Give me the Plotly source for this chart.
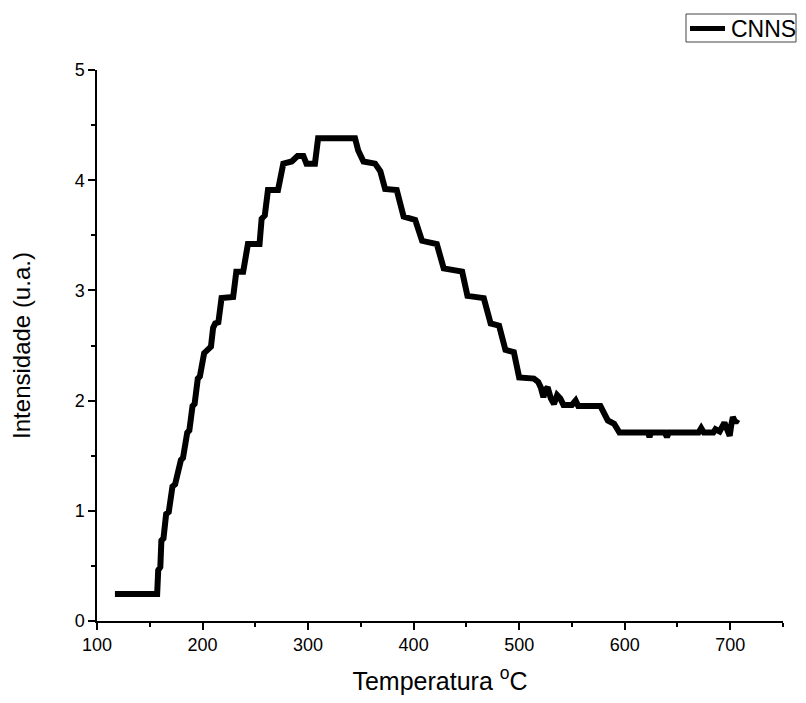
import plotly.graph_objects as go

temperatura = [117, 157, 158, 160, 161, 163, 165.5, 168, 171.5, 174, 179.5, 181.5, 185.5, 187.5,
               190.5, 192.5, 195.5, 197.5, 201.5, 204, 208, 210, 212, 215, 218, 229, 232, 238.5,
               243, 254, 256, 259, 262, 271.5, 273.5, 276.5, 284.5, 290, 295.5, 298.5, 306.5,
               309.5, 344.5, 347.5, 352.5, 363.5, 368.5, 373, 384, 390.5, 401.5, 408, 422, 428.5,
               446, 451, 466.5, 473, 481, 487, 495, 500, 514, 518, 520.5, 523, 525, 527, 530, 533,
               536, 539, 542, 545.5, 550, 553.5, 556, 577, 580, 584, 590, 595, 622, 623.5, 625,
               638, 640, 642, 670, 672.5, 675, 684, 686, 690, 694.5, 697, 699.5, 701, 702.5, 705, 707]
intensidade = [0.245, 0.245, 0.46, 0.49, 0.73, 0.75, 0.97, 0.99, 1.22, 1.24, 1.46, 1.48, 1.71, 1.73,
               1.95, 1.97, 2.2, 2.22, 2.43, 2.45, 2.49, 2.66, 2.70, 2.71, 2.93, 2.94, 3.17, 3.17,
               3.42, 3.42, 3.65, 3.68, 3.91, 3.91, 4.0, 4.15, 4.17, 4.22, 4.22, 4.15, 4.15,
               4.38, 4.38, 4.27, 4.17, 4.15, 4.08, 3.92, 3.91, 3.67, 3.64, 3.45, 3.42, 3.2,
               3.17, 2.95, 2.93, 2.7, 2.68, 2.46, 2.44, 2.21, 2.2, 2.17, 2.12, 2.03, 2.1, 2.12, 2.02, 1.97,
               2.05, 2.02, 1.96, 1.96, 1.96, 2.0, 1.95, 1.95, 1.88, 1.82, 1.79, 1.71, 1.71, 1.67, 1.71,
               1.71, 1.67, 1.71, 1.71, 1.75, 1.71, 1.71, 1.74, 1.72, 1.8, 1.75, 1.68, 1.78, 1.85, 1.8, 1.83]

x_ticks = [100, 200, 300, 400, 500, 600, 700]
y_ticks = [0, 1, 2, 3, 4, 5]
series_name = "CNNS"

font_family = "Liberation Sans, Arial, sans-serif"

# the page body has an 8px margin, so figure coordinates are offset by 8px
OFF = 8
W, H = 798, 687
L, R, T, B = 89, 23, 62, 74
pw, ph = W - L - R, H - T - B


def px_x(p):
    return (p - OFF - L) / pw


def px_y(p):
    return (H - B - (p - OFF)) / ph


fig = go.Figure()
fig.add_trace(go.Scatter(
    x=temperatura, y=intensidade, mode="lines", name=series_name,
    line=dict(color="black", width=6, shape="linear"),
    showlegend=False,
))

# legend drawn manually (box, line sample, label)
fig.add_shape(type="rect", xref="paper", yref="paper",
              x0=px_x(686), x1=px_x(796), y0=px_y(42), y1=px_y(14),
              line=dict(color="#444444", width=1), fillcolor="white", layer="above")
fig.add_shape(type="line", xref="paper", yref="paper",
              x0=px_x(690), x1=px_x(725), y0=px_y(28.5), y1=px_y(28.5),
              line=dict(color="black", width=5), layer="above")
fig.add_annotation(xref="paper", yref="paper", x=px_x(729), y=px_y(28.5),
                   xanchor="left", yanchor="middle", showarrow=False,
                   text=series_name, font=dict(size=23, color="black", family=font_family))

fig.update_layout(
    width=W, height=H,
    margin=dict(l=L, r=R, t=T, b=B),
    paper_bgcolor="white", plot_bgcolor="white",
    font=dict(family=font_family, size=18, color="black"),
    showlegend=False,
    xaxis=dict(range=[100, 750], tickvals=x_ticks, ticktext=[str(v) for v in x_ticks],
               automargin=False,
               showline=True, linecolor="black", linewidth=1.5, showgrid=False, zeroline=False,
               ticks="outside", ticklen=7, tickwidth=1.5, tickcolor="black",
               tickfont=dict(size=18),
               minor=dict(ticks="outside", ticklen=4, tickwidth=1.5, dtick=50, tick0=100,
                          tickcolor="black", showgrid=False),
               title=dict(text="Temperatura <sup>o</sup>C", font=dict(size=25), standoff=26)),
    yaxis=dict(range=[0, 5], tickvals=y_ticks, ticktext=[str(v) for v in y_ticks],
               automargin=False,
               showline=True, linecolor="black", linewidth=1.5, showgrid=False, zeroline=False,
               ticks="outside", ticklen=7, tickwidth=1.5, tickcolor="black",
               tickfont=dict(size=18),
               minor=dict(ticks="outside", ticklen=4, tickwidth=1.5, dtick=0.5, tick0=0,
                          tickcolor="black", showgrid=False),
               title=dict(text="Intensidade (u.a.)", font=dict(size=24), standoff=50)),
)

fig.write_html("out.html")
